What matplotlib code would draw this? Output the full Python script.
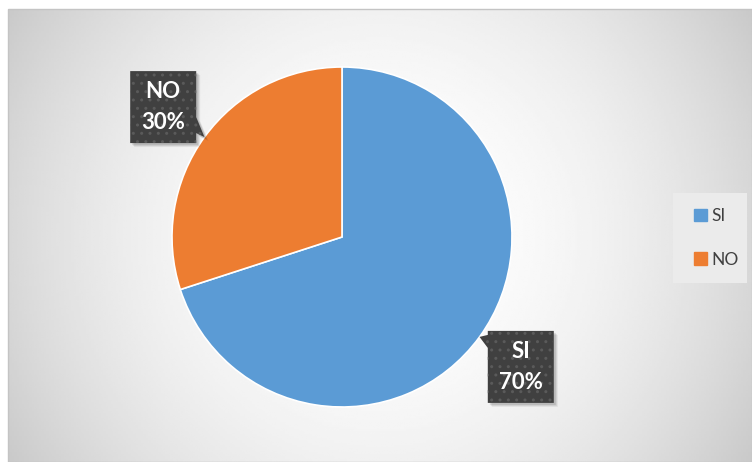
import numpy as np
import matplotlib.pyplot as plt
from matplotlib.patches import Polygon, Rectangle
import matplotlib.patches as mpatches

# survey answer shares
labels = ["SI", "NO"]
values = [70, 30]
colors = ["#5b9bd5", "#ed7d31"]

W, H = 752, 462
fig = plt.figure(figsize=(W / 100, H / 100), dpi=100)
fig.patch.set_facecolor("white")
ax = fig.add_axes([0, 0, 1, 1])

# chart area: radial gradient from white centre to grey corners
x0, y1 = 8, H - 9
gx, gy = np.meshgrid(np.linspace(x0, W, 300), np.linspace(0, y1, 200))
d = np.hypot(gx - 380, gy - (H - 235)) / 435.0
shade = np.clip(1.0 - 0.21 * d ** 2, 0, 1)
ax.imshow(shade, cmap="gray", vmin=0, vmax=1, extent=[x0, W, 0, y1],
          origin="lower", zorder=0, interpolation="bilinear")
ax.add_patch(Rectangle((x0, 0), W - x0, y1, fill=False, ec="#c4c4c4", lw=1, zorder=1))

cx, cy, r = 342, H - 237, 170
wedges, _ = ax.pie(values, colors=colors, startangle=90, counterclock=False,
                   center=(cx, cy), radius=r, frame=True,
                   wedgeprops=dict(edgecolor="white", linewidth=1.2))
ax.set_xlim(0, W)
ax.set_ylim(0, H)
ax.set_aspect("equal")
ax.axis("off")
for w in wedges:
    w.set_zorder(2)


def callout(tip, bc, bw, bh, text):
    """dark label box with a small tail pointing at the wedge edge"""
    left, right = bc[0] - bw / 2, bc[0] + bw / 2
    bot, top = bc[1] - bh / 2, bc[1] + bh / 2
    if tip[0] > bc[0]:
        # tail off the right edge, near the bottom
        pts = [(left, bot), (right, bot), (right, bot + 10), tip,
               (right, bot + 26), (right, top), (left, top)]
    else:
        # tail off the left edge, near the top
        pts = [(left, bot), (right, bot), (right, top), (left, top),
               (left, top - 4), tip, (left, top - 17)]
    for k, a in [(4, 0.06), (3, 0.08), (2, 0.10)]:
        sh = [(px + k, py - k) for px, py in pts]
        ax.add_patch(Polygon(sh, closed=True, fc="black", ec="none", alpha=a, zorder=3))
    ax.add_patch(Polygon(pts, closed=True, fc="#404040", ec="#5a5a5a",
                         hatch="..", lw=0, zorder=4))
    ax.text(bc[0], bc[1], text, ha="center", va="center", color="white",
            fontsize=16, fontweight="bold", family="Lato", linespacing=1.55, zorder=5)


total = sum(values)
start = 90.0
for lab, v in zip(labels, values):
    sweep = 360.0 * v / total
    mid = np.deg2rad(start - sweep / 2)
    start -= sweep
    tip = (cx + r * np.cos(mid), cy + r * np.sin(mid))
    bc = (cx + 1.3 * r * np.cos(mid), cy + 1.3 * r * np.sin(mid))
    callout(tip, bc, 66, 72, f"{lab}\n{v}%")

# legend on a slightly lighter panel
ax.add_patch(Rectangle((673, H - 283), 74, 90, fc="#ebebeb", ec="none", zorder=1))
handles = [mpatches.Patch(color=c, label=l) for c, l in zip(colors, labels)]
leg = ax.legend(handles=handles, loc="center left", bbox_to_anchor=(678 / W, (H - 238) / H),
                frameon=False, handlelength=0.75, handleheight=0.75,
                handletextpad=0.3, labelspacing=1.6, prop={"family": "Lato", "size": 12.5})
for t in leg.get_texts():
    t.set_color("#404040")

fig.savefig("out.png", dpi=100, facecolor="white")
